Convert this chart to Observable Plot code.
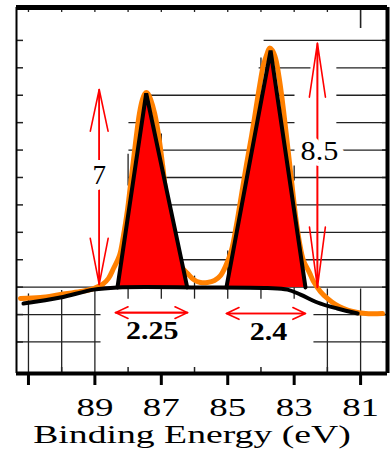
<!DOCTYPE html>
<html><head><meta charset="utf-8">
<script src="https://cdn.jsdelivr.net/npm/d3@7"></script>
<script src="https://cdn.jsdelivr.net/npm/@observablehq/plot@0.6"></script>
<style>body{margin:0;background:#fff;} #chart svg{display:block;}</style>
</head><body><div id="chart"></div>
<script>
// ---- data (binding energy in eV, intensity in grid units) ----
const energyDomain = [91.36, 80.19];
const countDomain = [-0.15, 13.2];
const majorTicks = [91, 89, 87, 85, 83, 81];
const majorTickLabels = ["", "89", "87", "85", "83", "81"];
const minorTicks = [90, 88, 86, 84, 82];
const topTicks = [91, 90, 89, 88, 87, 86, 85, 84, 83, 82];
const topLongTick = [81];
const sideTicks = [1, 2, 3, 4, 5, 6, 7, 8, 9, 10, 11, 12];
const axisTitle = "Binding Energy (eV)";

const spectrumEnergy = [91.24, 90.64, 90.04, 89.43, 89.04, 88.77, 88.59, 88.44, 88.26, 88.14, 88.02, 87.93, 87.84, 87.75, 87.66, 87.57, 87.50, 87.45, 87.40, 87.32, 87.20, 87.08, 86.96, 86.84, 86.72, 86.57, 86.40, 86.21, 86.03, 85.82, 85.61, 85.40, 85.22, 85.07, 84.89, 84.74, 84.59, 84.44, 84.28, 84.16, 84.04, 83.93, 83.82, 83.74, 83.66, 83.56, 83.44, 83.32, 83.20, 83.08, 82.96, 82.84, 82.72, 82.54, 82.42, 82.21, 82.00, 81.76, 81.51, 81.24, 80.85, 80.34];
const spectrumCount = [2.59, 2.62, 2.73, 2.84, 2.95, 3.10, 3.32, 3.68, 4.15, 4.88, 5.80, 6.71, 7.62, 8.53, 9.33, 9.84, 10.05, 10.10, 10.05, 9.84, 9.33, 8.53, 7.44, 6.16, 5.14, 4.26, 3.75, 3.50, 3.28, 3.17, 3.17, 3.24, 3.42, 3.75, 4.34, 5.25, 6.34, 7.44, 8.53, 9.44, 10.35, 11.08, 11.50, 11.72, 11.64, 11.34, 10.54, 9.44, 8.17, 6.89, 5.61, 4.63, 3.97, 3.53, 3.21, 2.84, 2.59, 2.37, 2.22, 2.11, 2.04, 2.04];

const baselineEnergy = [91.15, 90.04, 89.04, 88.32, 85.80, 83.80, 83.20, 82.81, 82.30, 81.70, 81.09];
const baselineCount = [2.40, 2.62, 2.91, 2.99, 2.99, 2.97, 2.91, 2.73, 2.44, 2.22, 2.04];

const peakEnergy = [[88.32, 87.455, 86.22], [85.04, 83.71, 82.66]];
const peakCount = [[2.99, 10.07, 2.99], [2.99, 11.63, 2.99]];

const heightArrowEnergy = [88.87, 82.30];
const heightArrowLow = [3.10, 2.99];
const heightArrowHigh = [10.21, 11.89];
const heightLabels = ["7", "8.5"];
const heightLabelCount = [7.07, 7.97];

const widthArrowFrom = [88.38, 85.04];
const widthArrowTo = [86.21, 82.66];
const widthArrowCount = [2.07, 2.04];
const widthLabels = ["2.25", "2.4"];
const widthLabelEnergy = [87.27, 83.77];
const widthLabelCount = [1.40, 1.38];

const gridRowCount = [12, 11, 11, 10, 10, 9, 9, 8, 8, 7, 6, 5, 4, 3, 2, 2, 1, 1];
const gridRowFrom = [83.92, 84.07, 81.73, 87.48, 81.73, 87.99, 81.73, 87.99, 81.73, 87.99, 87.2, 87.2, 87.2, 91.36, 91.36, 82.42, 91.36, 82.42];
const gridRowTo = [80.19, 82.51, 80.19, 82.99, 80.19, 82.99, 80.19, 82.99, 80.19, 80.19, 80.19, 80.19, 80.19, 80.19, 88.83, 80.19, 88.83, 80.19];

const gridColEnergy = [91, 90, 89, 82, 81, 88, 87, 86, 85, 84, 83, 88, 87, 84, 83];
const gridColFrom = [2.77, 2.9, 2.95, 2.95, 2.95, 2.99, 2.99, 3.42, 4.34, 2.99, 2.99, 7.87, 8.60, 11.38, 7.44];
const gridColTo = [-0.15, -0.15, -0.15, -0.15, -0.15, 2.58, 2.58, 2.58, 2.58, 2.58, 2.58, 6.71, 7.80, 10.90, 6.89];

// ---- tables built from the arrays ----
const spectrum = spectrumEnergy.map((e, i) => ({e, c: spectrumCount[i]}));
const baseline = baselineEnergy.map((e, i) => ({e, c: baselineCount[i]}));
const peaks = peakEnergy.flatMap((es, p) => es.map((e, j) => ({peak: p, e, c: peakCount[p][j], base: peakCount[p][0]})));
const heightArrows = heightArrowEnergy.map((e, i) => ({e, lo: heightArrowLow[i], hi: heightArrowHigh[i], label: heightLabels[i], lc: heightLabelCount[i]}));
const widthArrows = widthArrowFrom.map((a, i) => ({a, b: widthArrowTo[i], c: widthArrowCount[i], label: widthLabels[i], le: widthLabelEnergy[i], lc: widthLabelCount[i]}));
const gridRows = gridRowCount.map((c, i) => ({c, from: gridRowFrom[i], to: gridRowTo[i]}));
const gridCols = gridColEnergy.map((e, i) => ({e, from: gridColFrom[i], to: gridColTo[i]}));

const serif = '"Liberation Serif", "Times New Roman", serif';
const gridColor = "#222";
const orange = "#ff8000";

const svg = Plot.plot({
  width: 391, height: 474,
  marginLeft: 16, marginRight: 4, marginTop: 7, marginBottom: 101,
  x: {domain: energyDomain, axis: null},
  y: {domain: countDomain, axis: null},
  style: {background: "white", fontFamily: serif, color: "black"},
  marks: [
    Plot.link(gridRows, {x1: "from", x2: "to", y1: "c", y2: "c", stroke: gridColor, strokeWidth: 1.3}),
    Plot.link(gridCols, {x1: "e", x2: "e", y1: "from", y2: "to", stroke: gridColor, strokeWidth: 1.3}),
    Plot.ruleX(topTicks, {insetBottom: 361, stroke: gridColor, strokeWidth: 1.3}),
    Plot.ruleX(topLongTick, {insetBottom: 345, stroke: gridColor, strokeWidth: 1.6}),
    Plot.ruleY(sideTicks, {insetRight: 364, stroke: gridColor, strokeWidth: 1.5}),
    Plot.ruleY(sideTicks, {insetLeft: 366, stroke: gridColor, strokeWidth: 1.5}),
    Plot.ruleX(minorTicks, {insetTop: 360, stroke: gridColor, strokeWidth: 1.5}),
    Plot.axisX(majorTicks, {
      anchor: "bottom", tickSize: 12, tickPadding: 12, strokeWidth: 3,
      tickFormat: d => majorTickLabels[majorTicks.indexOf(d)],
      fontSize: 26, fontFamily: serif, fontWeight: "normal", label: null
    }),
    // frame
    Plot.ruleY([countDomain[1]], {stroke: "black", strokeWidth: 5}),
    Plot.ruleY([countDomain[0]], {stroke: "black", strokeWidth: 4}),
    Plot.ruleX([energyDomain[0]], {stroke: "black", strokeWidth: 2}),
    Plot.ruleX([energyDomain[1]], {stroke: "black", strokeWidth: 4}),
    // spectrum
    Plot.line(spectrum, {x: "e", y: "c", stroke: orange, strokeWidth: 5, curve: "catmull-rom"}),
    // triangular peak fits
    Plot.areaY(peaks, {x: "e", y1: "base", y2: "c", z: "peak", fill: "#ff0000"}),
    Plot.line(peaks, {x: "e", y: "c", z: "peak", stroke: "black", strokeWidth: 4, strokeLinejoin: "miter"}),
    Plot.line(baseline, {x: "e", y: "c", stroke: "black", strokeWidth: 4, curve: "catmull-rom"}),
    // height arrows
    Plot.arrow(heightArrows.filter((d, i) => i === 0), {x1: "e", x2: "e", y1: "lo", y2: "hi", stroke: "red", strokeWidth: 1.6, headAngle: 24, headLength: 40}),
    Plot.arrow(heightArrows.filter((d, i) => i === 0), {x1: "e", x2: "e", y1: "hi", y2: "lo", stroke: "red", strokeWidth: 1.6, headAngle: 22, headLength: 44}),
    Plot.arrow(heightArrows.filter((d, i) => i === 1), {x1: "e", x2: "e", y1: "lo", y2: "hi", stroke: "red", strokeWidth: 1.6, headAngle: 17, headLength: 51}),
    Plot.arrow(heightArrows.filter((d, i) => i === 1), {x1: "e", x2: "e", y1: "hi", y2: "lo", stroke: "red", strokeWidth: 1.6, headAngle: 15, headLength: 57}),
    // width arrows
    Plot.arrow(widthArrows, {x1: "a", x2: "b", y1: "c", y2: "c", stroke: "red", strokeWidth: 1.6, headAngle: 50, headLength: 13}),
    Plot.arrow(widthArrows, {x1: "b", x2: "a", y1: "c", y2: "c", stroke: "red", strokeWidth: 1.6, headAngle: 50, headLength: 13}),
    // labels
    Plot.text(heightArrows.filter((d, i) => i === 0), {x: "e", y: "lc", text: "label", fontSize: 27, fill: "black", stroke: "white", strokeWidth: 12, fontFamily: serif}),
    Plot.text(heightArrows.filter((d, i) => i === 1), {x: "e", y: "lc", text: "label", fontSize: 27, fill: "black", stroke: "white", strokeWidth: 12, fontFamily: serif, dx: 2}),
    Plot.text(widthArrows, {x: "le", y: "lc", text: "label", fontSize: 25, fontWeight: "bold", fill: "black", fontFamily: serif}),
    Plot.text([axisTitle], {text: d => d, frameAnchor: "bottom", dy: 69, dx: -10, fontSize: 26, fill: "black", fontFamily: serif})
  ]
});

function stretch(el, s) {
  let t = el.getAttribute("transform");
  if (!t) {
    const x = +el.getAttribute("x") || 0, y = +el.getAttribute("y") || 0;
    el.removeAttribute("x"); el.removeAttribute("y");
    t = `translate(${x},${y})`;
  }
  el.setAttribute("transform", t + ` scale(${s},1)`);
}
const stretchByText = new Map([
  [axisTitle, 1.45],
  [heightLabels[1], 1.12],
  [widthLabels[0], 1.2],
  [widthLabels[1], 1.2],
  ...majorTickLabels.filter(d => d).map(d => [d, 1.42])
]);
svg.querySelectorAll("text").forEach(el => {
  const s = stretchByText.get(el.textContent.trim());
  if (s) stretch(el, s);
});
document.getElementById("chart").appendChild(svg);
</script>
</body></html>
